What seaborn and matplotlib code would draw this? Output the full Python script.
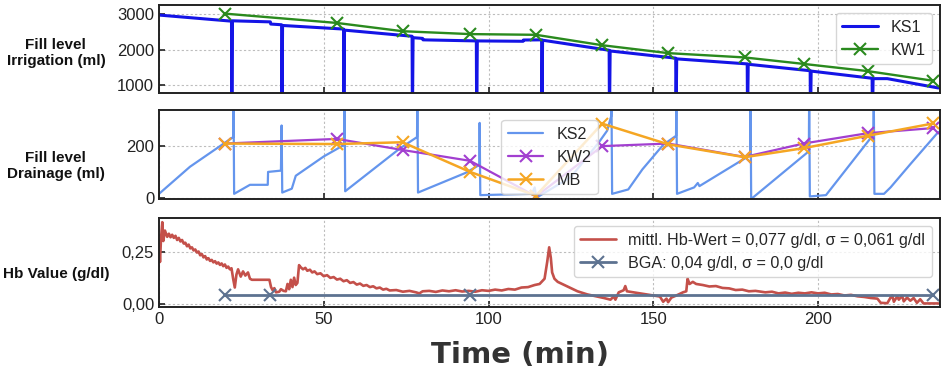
import matplotlib
matplotlib.use("Agg")
import matplotlib.pyplot as plt
import seaborn as sns
from matplotlib.ticker import FuncFormatter

# sampling times (KW / MB)
sample_t = [20, 54, 73.9, 94.4, 114.4, 134.5, 154.5, 177.7, 195.6, 215, 235]

# irrigation bag KS1 (scale), spikes = bag changes
ks1_t = [0, 22.0, 22.1, 22.3, 33.8, 33.9, 37.2, 37.3, 37.5, 56.0, 56.1, 56.3,
         76.8, 76.9, 77.1, 80.0, 80.1, 96.3, 96.4, 96.6, 110.5, 110.6,
         116.1, 116.2, 116.4, 136.6, 136.7, 136.9, 156.8, 156.9, 157.1,
         178.5, 178.6, 178.8, 197.6, 197.7, 197.9, 216.4, 216.5, 216.7, 221, 236.5]
ks1_v = [2960, 2790, 0, 2800, 2770, 2710, 2690, 0, 2670, 2570, 0, 2540,
         2370, 0, 2330, 2310, 2270, 2240, 0, 2240, 2230, 2265,
         2270, 0, 2260, 1980, 0, 1960, 1760, 0, 1740,
         1600, 0, 1590, 1410, 0, 1400, 1200, 0, 1190, 1190, 930]
kw1 = [3000, 2740, 2510, 2430, 2410, 2120, 1900, 1780, 1600, 1400, 1130]

# drainage bag KS2
ks2_t = [0, 9.4, 22.5, 22.6, 22.8, 27.6, 33.0, 33.1, 37.0, 37.2, 37.4, 40.3, 41.5,
         50, 56.2, 56.3, 56.5, 73, 78.3, 78.4, 78.6, 93, 97.2, 97.3, 97.5,
         113, 113.5, 114, 114.5, 125, 133.5, 136, 137.2, 137.3, 137.5,
         142.4, 146.7, 153, 156.9, 157, 157.2, 162.4, 163.5, 164, 179.4, 179.5, 179.7,
         197.2, 197.3, 197.5, 202.4, 216.8, 216.9, 217.1, 220, 222, 228, 236.5]
ks2_v = [15, 120, 235, 400, 15, 50, 50, 100, 105, 280, 20, 35, 85,
         160, 205, 400, 25, 190, 235, 400, 20, 96, 127, 290, 10,
         15, 25, 40, 0, 80, 215, 260, 315, 400, 15,
         32, 110, 205, 240, 400, 15, 40, 57, 45, 165, 400, -5,
         180, 400, 5, 10, 245, 400, 15, 15, 40, 130, 255]
kw2 = [210, 228, 185, 143, 5, 200, 210, 158, 210, 250, 270]
mb = [210, 208, 215, 100, 8, 287, 207, 157, 192, 240, 288]

# Hb value
hb_t = [0.0, 0.3, 0.6, 1.0, 1.3, 1.8, 2.5,
        3.0, 3.5, 4.0, 4.5, 5.0, 5.5, 6.0, 6.5, 7.0, 7.5, 8.0, 8.5, 9.0, 9.5,
        10.0, 10.5, 11.0, 11.5, 12.0, 12.5, 13.0, 13.5, 14.0, 14.5, 15.0, 15.5,
        16.0, 16.5, 17.0, 17.5, 18.0, 18.5, 19.0, 19.5, 20.0, 20.5, 21.0, 21.5, 22.0,
        22.5, 23.0, 23.5, 24.0, 24.8, 25.5, 26.2, 27.0, 27.6, 28.2, 33.5, 34.0,
        34.5, 35.0, 35.5, 36.5, 37.0, 37.8, 38.5, 39.0, 39.5, 40.0, 40.5, 41.0,
        41.5, 42.0, 42.5,
        43.0, 43.7, 44.4, 45.0, 45.8, 46.5, 47.2, 48.0, 49.0, 50.0, 51.0, 52.0,
        53.0, 54.0, 55.0, 56.0, 57.0, 58.0, 59.0, 60.0, 61.0, 62.0, 63.0, 64.0,
        65.0, 66.0, 67.0, 68.0, 69.0, 70.0, 72.0, 74.0,
        76.0, 78.0, 79.0, 80.0, 82.0, 84.0, 86.0, 88.0, 90.0, 92.0, 94.0, 96.0,
        98.0, 100.0, 102.0, 104.0, 106.0, 108.0, 110.0, 112.0, 114.0,
        115.5, 117.0, 117.8, 118.4, 118.9, 119.3, 120.0,
        121.0, 123.0, 125.0, 127.0, 130.0, 133.0, 135.0, 137.0, 138.0, 138.5,
        139.5, 141.0, 141.5, 142.0, 144.0, 146.0, 148.0, 150.0, 152.0, 153.0,
        154.0, 154.5, 155.5, 157.0, 159.0, 160.0, 160.4, 161.0, 162.0, 163.0,
        165.0, 167.0, 169.0, 171.0, 173.0, 175.0, 177.0, 179.0, 181.0, 184.0,
        186.0, 188.0, 190.0, 192.0, 194.0, 196.0, 198.0, 200.0, 202.0, 204.0,
        206.0, 208.0, 210.0, 212.0, 214.0, 216.0, 218.0,
        219.0, 221.0, 222.0, 222.5, 223.0, 224.0, 224.5, 225.5, 226.0, 227.0,
        228.0, 229.0, 230.0, 231.0, 232.0, 236.5]
hb_v = [0.30, 0.20, 0.31, 0.39, 0.30, 0.35, 0.32,
        0.335, 0.318, 0.33, 0.315, 0.325, 0.305, 0.315, 0.298, 0.305, 0.288, 0.292, 0.275, 0.283, 0.265,
        0.27, 0.255, 0.26, 0.245, 0.25, 0.232, 0.238, 0.222, 0.228, 0.212, 0.218, 0.205,
        0.21, 0.198, 0.204, 0.192, 0.198, 0.186, 0.193, 0.18, 0.188, 0.172, 0.178, 0.165, 0.17,
        0.12, 0.078, 0.14, 0.165, 0.13, 0.155, 0.135, 0.15, 0.12, 0.115, 0.115, 0.08,
        0.065, 0.075, 0.055, 0.058, 0.07, 0.062, 0.06, 0.095, 0.07, 0.115, 0.08, 0.125,
        0.09, 0.10, 0.185,
        0.175, 0.165, 0.172, 0.158, 0.163, 0.15, 0.155, 0.142, 0.146, 0.132, 0.137, 0.124,
        0.128, 0.116, 0.12, 0.108, 0.113, 0.10, 0.104, 0.092, 0.097, 0.086, 0.09, 0.08,
        0.084, 0.074, 0.078, 0.068, 0.072, 0.064, 0.066, 0.058,
        0.062, 0.055, 0.05, 0.06, 0.062, 0.057, 0.064, 0.06, 0.065, 0.059, 0.062, 0.058,
        0.065, 0.062, 0.068, 0.064, 0.071, 0.068, 0.078, 0.08, 0.09,
        0.095, 0.12, 0.20, 0.27, 0.22, 0.15, 0.12,
        0.105, 0.09, 0.075, 0.06, 0.045, 0.035, 0.028, 0.02, 0.035, 0.02,
        0.055, 0.065, 0.085, 0.06, 0.055, 0.05, 0.045, 0.04, 0.035, 0.01,
        0.025, 0.008, 0.03, 0.04, 0.055, 0.06, 0.12, 0.095, 0.105, 0.095,
        0.09, 0.083, 0.085, 0.076, 0.074, 0.066, 0.068, 0.06, 0.062, 0.055,
        0.058, 0.05, 0.054, 0.048, 0.053, 0.05, 0.055, 0.05, 0.053, 0.045,
        0.047, 0.04, 0.043, 0.036, 0.033, 0.028, 0.025,
        0.005, 0.003, 0.03, 0.04, 0.01, 0.035, 0.02, 0.038, 0.012, 0.03,
        0.015, 0.028, 0.005, 0.022, 0.002, 0.002]
bga_t = [20, 33.8, 94.4, 235]
bga_v = [0.04, 0.04, 0.04, 0.04]


def style_axis(ax):
    ax.set_xlim(0, 237)
    ax.set_xticks([0, 50, 100, 150, 200])
    ax.grid(True, linestyle=(0, (2, 2)), color="#bdbdbd", linewidth=0.8)
    ax.tick_params(direction="in", length=4, width=1.2, labelsize=12, colors="#222222")
    for s in ax.spines.values():
        s.set_linewidth(1.4)
        s.set_color("#222222")
    ax.set_xlabel("")


def main():
    sns.set_theme(style="ticks")
    plt.rcParams["font.family"] = ["Liberation Sans", "DejaVu Sans"]

    fig = plt.figure(figsize=(9.44, 3.81), dpi=100)
    left = 159 / 944
    width = (940 - 159) / 944
    ax1 = fig.add_axes([left, 1 - 93 / 381, width, 88 / 381])
    ax2 = fig.add_axes([left, 1 - 199 / 381, width, 89 / 381])
    ax3 = fig.add_axes([left, 1 - 307 / 381, width, 89 / 381])

    leg_kw = dict(fontsize=11.6, frameon=True, fancybox=True, framealpha=0.8,
                  edgecolor="#cccccc", handlelength=2.2)

    # irrigation
    sns.lineplot(x=ks1_t, y=ks1_v, ax=ax1, color="#1414e6", linewidth=2.2,
                 sort=False, estimator=None, label="KS1")
    sns.lineplot(x=sample_t, y=kw1, ax=ax1, color="#2a8a1e", linewidth=1.7,
                 marker="x", markersize=8, markeredgewidth=1.5,
                 markeredgecolor="#2a8a1e", estimator=None, label="KW1")
    ax1.set_ylim(790, 3240)
    ax1.set_yticks([1000, 2000, 3000])
    ax1.legend(loc="upper right", **leg_kw)

    # drainage
    sns.lineplot(x=ks2_t, y=ks2_v, ax=ax2, color="#6495ed", linewidth=1.6,
                 sort=False, estimator=None, label="KS2")
    sns.lineplot(x=sample_t, y=kw2, ax=ax2, color="#a23fd0", linewidth=1.6,
                 marker="x", markersize=8, markeredgewidth=1.5,
                 markeredgecolor="#a23fd0", estimator=None, label="KW2")
    sns.lineplot(x=sample_t, y=mb, ax=ax2, color="#f5a623", linewidth=1.8,
                 marker="x", markersize=8, markeredgewidth=1.5,
                 markeredgecolor="#f5a623", estimator=None, label="MB")
    ax2.set_ylim(-5, 340)
    ax2.set_yticks([0, 200])
    ax2.legend(loc="center", bbox_to_anchor=(0.5, 0.47), **leg_kw)

    # hb
    sns.lineplot(x=hb_t, y=hb_v, ax=ax3, color="#c4504a", linewidth=1.9,
                 sort=False, estimator=None,
                 label="mittl. Hb-Wert = 0,077 g/dl, σ = 0,061 g/dl")
    sns.lineplot(x=bga_t, y=bga_v, ax=ax3, color="#5d7290", linewidth=2.0,
                 marker="x", markersize=8, markeredgewidth=1.5,
                 markeredgecolor="#5d7290", estimator=None,
                 label="BGA: 0,04 g/dl, σ = 0,0 g/dl")
    ax3.set_ylim(-0.015, 0.41)
    ax3.set_yticks([0, 0.25])
    ax3.yaxis.set_major_formatter(FuncFormatter(lambda v, p: f"{v:.2f}".replace(".", ",")))
    ax3.legend(loc="upper right", **leg_kw)

    for ax in (ax1, ax2, ax3):
        style_axis(ax)
    ax1.tick_params(labelbottom=False)
    ax2.tick_params(labelbottom=False)

    labels = ["Fill level\nIrrigation (ml)", "Fill level\nDrainage (ml)", "Hb Value (g/dl)"]
    label_y = [0.45, 0.37, 0.37]
    for ax, lab, ly in zip((ax1, ax2, ax3), labels, label_y):
        ax.set_ylabel(lab, rotation=0, ha="center", va="center", fontsize=11,
                      fontweight="bold", color="#111111")
        ax.yaxis.set_label_coords(-0.132, ly)

    fig.text(520 / 944, 1 - 355 / 381, "Time (min)", fontsize=21, fontweight="bold",
             family="DejaVu Sans", color="#333333", ha="center", va="center")

    fig.savefig("out.png", dpi=100)
    plt.close(fig)


if __name__ == "__main__":
    main()
